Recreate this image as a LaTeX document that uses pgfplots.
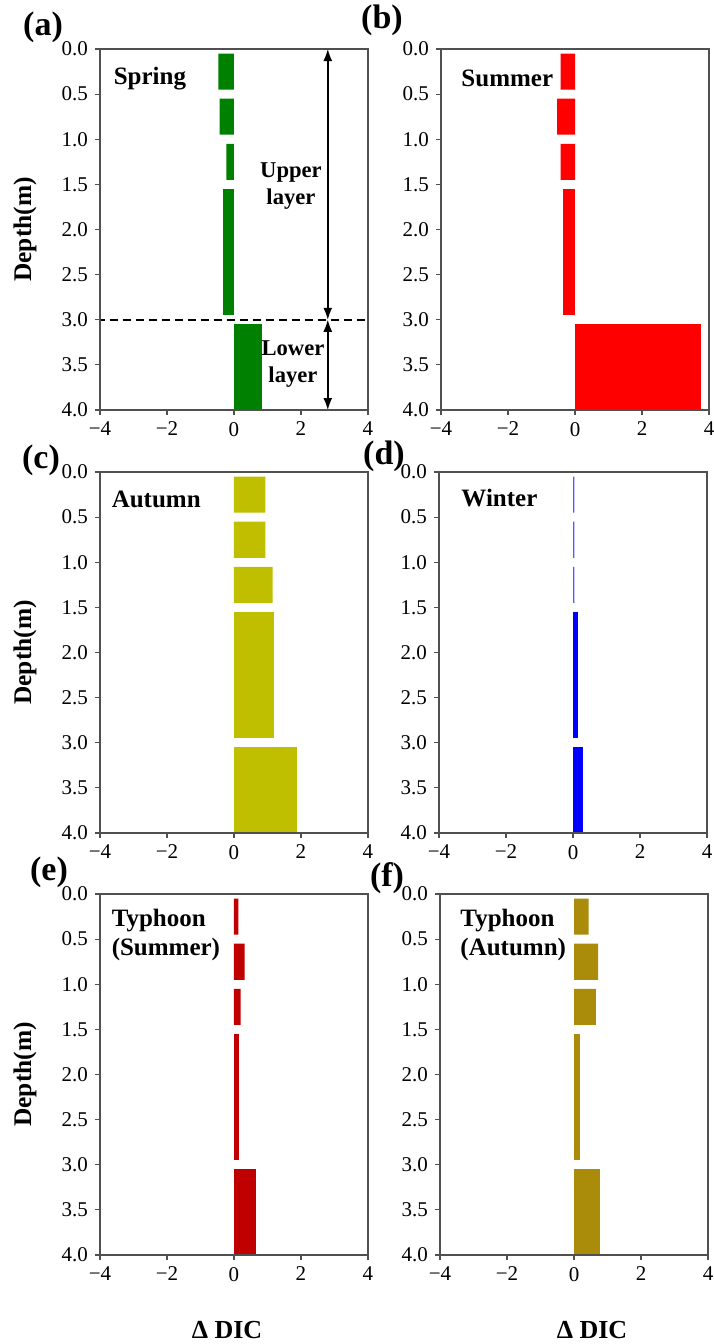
\documentclass[border=0pt]{standalone}
\usepackage{fontspec}
\setmainfont{Liberation Serif}
\usepackage{pgfplots}
\pgfplotsset{compat=1.18}
\usetikzlibrary{arrows.meta}

\definecolor{springc}{RGB}{0,128,0}
\definecolor{summerc}{RGB}{255,0,0}
\definecolor{autumnc}{RGB}{191,191,0}
\definecolor{winterc}{RGB}{0,0,255}
\definecolor{tysummer}{RGB}{192,0,0}
\definecolor{tyautumn}{RGB}{170,140,10}
\definecolor{axgray}{RGB}{80,80,80}

\pgfplotsset{
  panel/.style={
    anchor=north west, scale only axis,
    width=134pt, height=180.5pt,
    xmin=-4, xmax=4, ymin=0, ymax=4, y dir=reverse,
    xtick={-4,-2,0,2,4}, xticklabels={−4,−2,0,2,4},
    ytick={0,0.5,...,4},
    yticklabel style={/pgf/number format/.cd, fixed, fixed zerofill, precision=1},
    /pgf/number format/assume math mode=true,
    xtick pos=bottom, ytick pos=left,
    tick align=outside, major tick length=2.5pt,
    axis line style={axgray, line width=0.6pt},
    every tick/.style={axgray, line width=0.6pt},
    ticklabel style={font=\rmfamily\fontsize{10.5}{12}\selectfont},
    ylabel style={at={(axis description cs:-0.28,0.5)}, anchor=center,
      font=\bfseries\fontsize{12.7}{14}\selectfont},
    axis on top,
  },
  ubar/.style={xbar, bar shift=0pt, bar width=0.4, draw=none},
  mbar/.style={xbar, bar shift=0pt, bar width=1.4, draw=none},
  lbar/.style={xbar, bar shift=0pt, bar width=0.95, draw=none},
}
\tikzset{season/.style={anchor=west, align=left, font=\bfseries\fontsize{12.5}{14.5}\selectfont},
  plab/.style={inner sep=0pt, font=\bfseries\fontsize{17}{19}\selectfont},
  dbl/.style={{Latex[length=6pt,width=4.5pt]}-{Latex[length=6pt,width=4.5pt]}, line width=0.75pt}}

\begin{document}
\begin{tikzpicture}
\path[use as bounding box] (0,0) rectangle (356.5pt,-672pt);

% (a) spring
\begin{axis}[panel, at={(50pt,-24.5pt)}, ylabel={Depth(m)}]
\addplot[ubar, fill=springc] coordinates {(-0.47,0.25) (-0.43,0.75) (-0.23,1.25)};
\addplot[mbar, fill=springc] coordinates {(-0.33,2.25)};
\addplot[lbar, fill=springc] coordinates {(0.83,3.525)};
\node[season] at (axis cs:-3.8,0.33) {Spring};
\draw[black, line width=0.8pt, dash pattern=on 4pt off 2.5pt] (axis cs:-4.1,3.0) -- (axis cs:3.9,3.0);
\draw[dbl] (axis cs:2.8,0) -- (axis cs:2.8,3.0);
\draw[dbl] (axis cs:2.8,3.0) -- (axis cs:2.8,4.0);
\node[align=center, font=\bfseries\fontsize{11.3}{13.5}\selectfont] at (axis cs:1.7,1.52) {Upper\\layer};
\node[align=center, font=\bfseries\fontsize{11.3}{13.5}\selectfont] at (axis cs:1.76,3.49) {Lower\\layer};
\end{axis}

% (b) summer
\begin{axis}[panel, at={(220.5pt,-24.5pt)}]
\addplot[ubar, fill=summerc] coordinates {(-0.43,0.25) (-0.53,0.75) (-0.43,1.25)};
\addplot[mbar, fill=summerc] coordinates {(-0.36,2.25)};
\addplot[lbar, fill=summerc] coordinates {(3.76,3.525)};
\node[season] at (axis cs:-3.6,0.33) {Summer};
\end{axis}

% (c) autumn
\begin{axis}[panel, at={(50pt,-236pt)}, ylabel={Depth(m)}]
\addplot[ubar, fill=autumnc] coordinates {(0.94,0.25) (0.94,0.75) (1.15,1.25)};
\addplot[mbar, fill=autumnc] coordinates {(1.19,2.25)};
\addplot[lbar, fill=autumnc] coordinates {(1.87,3.525)};
\node[season] at (axis cs:-3.86,0.30) {Autumn};
\end{axis}

% (d) winter
\begin{axis}[panel, at={(219.5pt,-236pt)}]
\addplot[ubar, fill=winterc!65] coordinates {(0.04,0.25) (0.04,0.75) (0.04,1.25)};
\addplot[mbar, fill=winterc] coordinates {(0.15,2.25)};
\addplot[lbar, fill=winterc] coordinates {(0.30,3.525)};
\node[season] at (axis cs:-3.54,0.29) {Winter};
\end{axis}

% (e) typhoon summer
\begin{axis}[panel, at={(50pt,-447pt)}, ylabel={Depth(m)}]
\addplot[ubar, fill=tysummer] coordinates {(0.13,0.25) (0.32,0.75) (0.20,1.25)};
\addplot[mbar, fill=tysummer] coordinates {(0.16,2.25)};
\addplot[lbar, fill=tysummer] coordinates {(0.66,3.525)};
\node[season] at (axis cs:-3.86,0.45) {Typhoon\\(Summer)};
\end{axis}

% (f) typhoon autumn
\begin{axis}[panel, at={(220pt,-447pt)}]
\addplot[ubar, fill=tyautumn] coordinates {(0.44,0.25) (0.72,0.75) (0.65,1.25)};
\addplot[mbar, fill=tyautumn] coordinates {(0.19,2.25)};
\addplot[lbar, fill=tyautumn] coordinates {(0.78,3.525)};
\node[season] at (axis cs:-3.6,0.45) {Typhoon\\(Autumn)};
\end{axis}

\node[plab] at (21.5pt,-13.5pt) {(a)};
\node[plab] at (191pt,-10pt) {(b)};
\node[plab] at (20.5pt,-230pt) {(c)};
\node[plab] at (192pt,-228pt) {(d)};
\node[plab] at (24.5pt,-436pt) {(e)};
\node[plab] at (193.5pt,-439pt) {(f)};

\node[font=\bfseries\fontsize{13}{15}\selectfont] at (113.5pt,-665pt) {Δ DIC};
\node[font=\bfseries\fontsize{13}{15}\selectfont] at (296pt,-665pt) {Δ DIC};
\end{tikzpicture}
\end{document}
